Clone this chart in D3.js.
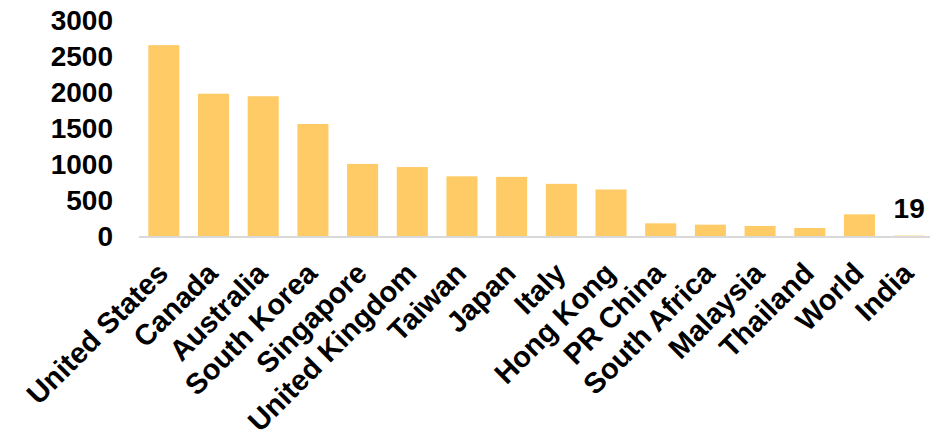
<!DOCTYPE html>
<html>
<head>
<meta charset="utf-8">
<script src="https://cdn.jsdelivr.net/npm/d3@7"></script>
<style>
  html, body { margin: 0; padding: 0; background: #fff; }
  svg { display: block; }
  text { font-family: "Liberation Sans", Arial, sans-serif; font-weight: bold; fill: #000; }
</style>
</head>
<body>
<svg id="chart" width="930" height="430"></svg>
<script>
// Values per country
const categories = ["United States", "Canada", "Australia", "South Korea", "Singapore",
  "United Kingdom", "Taiwan", "Japan", "Italy", "Hong Kong", "PR China", "South Africa",
  "Malaysia", "Thailand", "World", "India"];
const values = [2665, 1990, 1955, 1570, 1015, 972, 843, 835, 738, 660, 190, 171, 153, 125, 315, 19];
const yTicks = [0, 500, 1000, 1500, 2000, 2500, 3000];
const labelledCategory = "India";

const svg = d3.select("#chart");
const baseY = 237;

const x = d3.scaleBand()
  .domain(categories)
  .range([139, 934])
  .paddingInner(0.375)
  .paddingOuter(0.1875);

const y = d3.scaleLinear()
  .domain([0, 3000])
  .range([baseY, 21]);

// Bars
svg.append("g")
  .selectAll("rect")
  .data(categories.map((c, i) => ({ c, v: values[i] })))
  .join("rect")
  .attr("x", d => x(d.c))
  .attr("width", x.bandwidth())
  .attr("y", d => y(d.v))
  .attr("height", d => y(0) - y(d.v))
  .attr("fill", "#FFCB66");

// Baseline
svg.append("line")
  .attr("x1", 139).attr("x2", 930)
  .attr("y1", baseY).attr("y2", baseY)
  .attr("stroke", "#d9d9d9")
  .attr("stroke-width", 2);

// Y axis labels
const yAxis = d3.axisLeft(y).tickValues(yTicks).tickFormat(d3.format("d")).tickSize(0).tickPadding(0);
const gy = svg.append("g").attr("transform", "translate(113,0)").call(yAxis);
gy.select(".domain").remove();
gy.selectAll("text")
  .attr("font-size", 28)
  .attr("font-family", "Liberation Sans, Arial, sans-serif")
  .attr("font-weight", "bold")
  .attr("fill", "#000");

// X axis labels (rotated)
const xAxis = d3.axisBottom(x).tickSize(0).tickPadding(0);
const gx = svg.append("g").attr("transform", `translate(0,${baseY})`).call(xAxis);
gx.select(".domain").remove();
gx.selectAll("text")
  .attr("font-size", 29)
  .attr("font-family", "Liberation Sans, Arial, sans-serif")
  .attr("font-weight", "bold")
  .attr("fill", "#000")
  .attr("text-anchor", "end")
  .attr("dy", null)
  .attr("y", 0)
  .attr("transform", "translate(6,38) rotate(-45)");

// Value label
const li = categories.indexOf(labelledCategory);
svg.append("text")
  .attr("x", x(labelledCategory) + x.bandwidth() / 2)
  .attr("y", y(values[li]) - 18)
  .attr("text-anchor", "middle")
  .attr("font-size", 28)
  .text(values[li]);
</script>
</body>
</html>
